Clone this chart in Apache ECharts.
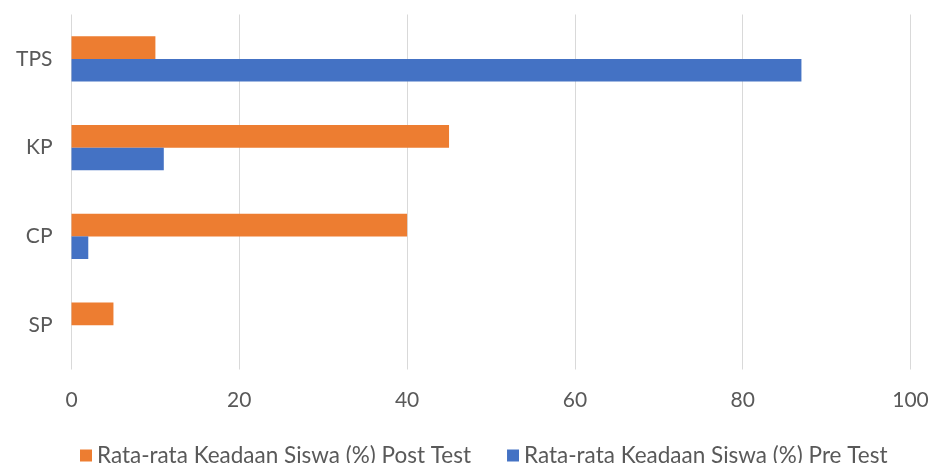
<!DOCTYPE html>
<html><head><meta charset="utf-8">
<script src="https://cdn.jsdelivr.net/npm/echarts@6/dist/echarts.min.js"></script>
<style>html,body{margin:0;padding:0;background:#fff}#c{width:933px;height:463px}</style>
</head><body><div id="c"></div>
<script>
const categories = ['SP', 'CP', 'KP', 'TPS'];
const postTest = [5, 40, 45, 10];
const preTest = [0, 2, 11, 87];
const xTicks = [0, 20, 40, 60, 80, 100];
const postName = 'Rata-rata Keadaan Siswa (%) Post Test';
const preName = 'Rata-rata Keadaan Siswa (%) Pre Test';

const font = 'Lato';
const chart = echarts.init(document.getElementById('c'));
chart.setOption({
  animation: false,
  grid: { left: 71.5, right: 22.5, top: 14.5, bottom: 93.5, containLabel: false },
  legend: {
    data: [postName, preName],
    top: 439, left: 75,
    itemWidth: 12, itemHeight: 12, itemGap: 36,
    icon: 'rect',
    textStyle: { fontFamily: font, fontSize: 22.5, color: '#595959' }
  },
  xAxis: {
    type: 'value', min: xTicks[0], max: xTicks[xTicks.length - 1], interval: 20,
    axisLine: { show: false }, axisTick: { show: false },
    axisLabel: { fontFamily: font, fontSize: 21, color: '#595959', margin: 20 },
    splitLine: { lineStyle: { color: '#d9d9d9', width: 1 } }
  },
  yAxis: {
    type: 'category', data: categories,
    axisLine: { show: false }, axisTick: { show: false },
    axisLabel: { fontFamily: font, fontSize: 21, color: '#595959', margin: 19 }
  },
  series: [
    { name: postName, type: 'bar', data: postTest, itemStyle: { color: '#ed7d31' }, barGap: '0%', barCategoryGap: '49%' },
    { name: preName, type: 'bar', data: preTest, itemStyle: { color: '#4472c4' }, barGap: '0%', barCategoryGap: '49%' }
  ]
});
</script></body></html>
